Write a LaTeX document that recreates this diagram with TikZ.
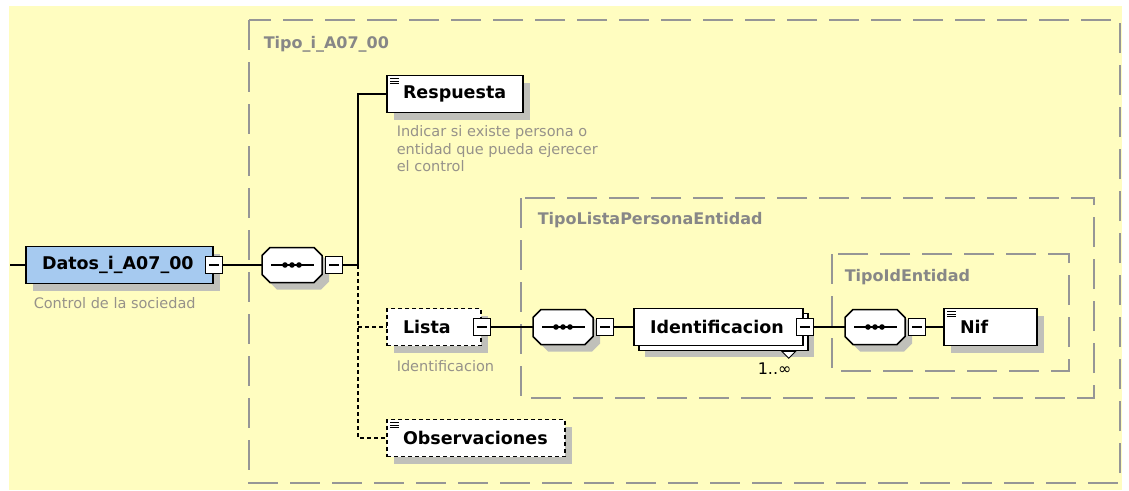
\documentclass[tikz,border=0pt]{standalone}
\usepackage{fontspec}
\setmainfont{DejaVu Sans}
\usetikzlibrary{positioning,shadows}
\definecolor{bgyellow}{RGB}{255,253,192}
\definecolor{elemblue}{RGB}{166,202,240}
\definecolor{shadowgray}{RGB}{192,192,186}
\definecolor{framegray}{RGB}{150,150,150}
\definecolor{labelgray}{RGB}{135,135,135}
\definecolor{descgray}{RGB}{150,146,138}
\hyphenpenalty=10000
% octagon with the three dots of a sequence
\newcommand{\seqbody}[1]{%
	\draw[fill=white, shade] ([xshift=8pt]#1.north west) -- ([xshift=-8pt]#1.north east) -- ([yshift=-8pt]#1.north east)
		-- ([yshift=8pt]#1.south east) -- ([xshift=-8pt]#1.south east) -- ([xshift=8pt]#1.south west)
		-- ([yshift=8pt]#1.south west) -- ([yshift=-8pt]#1.north west) -- cycle;
	\draw[line width=1.3pt] ([xshift=9pt]#1.west) -- ([xshift=-8pt]#1.east);
	\foreach \d in {-7,0,7}
		\fill[black] ([xshift=\d pt]#1.center) circle (2.8pt);
}
\begin{document}
\begin{tikzpicture}[x=1pt, y=-1pt]
	\edef\boxheight{37pt}
	\tikzstyle{every path}=[line width=1.5pt]
	\tikzstyle{frame}=[draw=framegray, line width=1.8pt, dash pattern=on 30pt off 12pt]
	\tikzstyle{shade}=[general shadow={fill=shadowgray, shadow xshift=7pt, shadow yshift=-7pt}]
	\tikzstyle{elembox}=[draw, fill=white, minimum height=\boxheight, inner xsep=16pt, inner ysep=0pt, align=left, font=\fontsize{17.5}{20}\selectfont\bfseries]
	\tikzstyle{elem}=[elembox, shade]
	\tikzstyle{simple}=[path picture={
		\foreach \k in {3,5.5,8}
			\draw[solid, line width=0.8pt] ([xshift=3pt,yshift=-\k pt]path picture bounding box.north west) -- ++(9pt,0);
	}]
	\tikzstyle{optional}=[dash pattern=on 4pt off 3pt]
	\tikzstyle{optline}=[line width=1.3pt, dash pattern=on 4pt off 3pt]
	\tikzstyle{minus}=[draw, fill=white, line width=1.1pt, minimum size=17pt, inner sep=0pt, path picture={
		\draw[line width=1.1pt] ([xshift=3.5pt]path picture bounding box.west) -- ([xshift=-3.5pt]path picture bounding box.east);
	}]
	\tikzstyle{seq}=[minimum width=60pt, minimum height=35pt, inner sep=0pt, outer sep=0pt]
	\tikzstyle{typelabel}=[anchor=west, inner sep=0pt, text=labelgray, font=\fontsize{16}{19}\selectfont\bfseries]
	\tikzstyle{desc}=[anchor=west, inner sep=0pt, align=left, text=descgray, font=\fontsize{14.5}{17.5}\selectfont]

	% background and type frames
	\useasboundingbox (0,0) rectangle (1129,490);
	\fill[bgyellow] (9,6) rectangle (1122,490);
	\draw[frame] (249,20) rectangle (1120,483);
	\draw[frame] (521,198) rectangle (1094,398);
	\draw[frame] (832,254) rectangle (1069,371);
	\node[typelabel] (ltipo) at (263,44) {Tipo\_i\_A07\_00};
	\node[typelabel] (llista) at (537,220) {TipoListaPersonaEntidad};
	\node[typelabel] (lid) at (844,277) {TipoIdEntidad};

	% root element
	\coordinate (start) at (10,265);
	\node[elem, fill=elemblue, minimum width=187pt, text width=155pt] (datos) at (119.5,265) {Datos\_i\_A07\_00};
	\node[minus] (mdatos) at (datos.east) {};
	\node[desc] (ddatos) at (33,303) {Control de la sociedad};

	% first sequence
	\node[seq] (seq1) at (292,265) {};
	\seqbody{seq1}
	\node[minus] (mseq1) [right=3pt of seq1] {};
	\coordinate (fork) at (358,265);

	\node[elem, simple, minimum width=136pt, text width=104pt] (resp) at (455,94) {Respuesta};
	\node[desc, anchor=north west] (dresp) at (396,125) {Indicar si existe persona o\\entidad que pueda ejerecer\\el control};

	\node[elem, optional, minimum width=94pt, text width=62pt] (lista) at (434,327) {Lista};
	\node[minus] (mlista) at (lista.east) {};
	\node[desc] (dlista) at (396,366) {Identificacion};

	\node[elem, simple, optional, minimum width=178pt, text width=146pt] (obs) at (476,438) {Observaciones};

	% lista content
	\node[seq] (seq2) at (563,327) {};
	\seqbody{seq2}
	\node[minus] (mseq2) [right=3pt of seq2] {};
	\node[elembox, general shadow={fill=shadowgray, shadow xshift=11pt, shadow yshift=-11pt},
		general shadow={draw=black, fill=white, shadow xshift=5pt, shadow yshift=-5pt},
		minimum width=169pt, text width=137pt] (ident) at (718.5,327) {Identificacion};
	\draw[line width=1pt, fill=white] ([shift={(-22,5)}]ident.south east) -- ++(14,0) -- ++(-7,7) -- cycle;
	\node[minus] (mident) at ([xshift=1pt]ident.east) {};
	\node[anchor=west, inner sep=0pt, font=\fontsize{16}{19}\selectfont] (card) at (757,369) {1..∞};

	% identificacion content
	\node[seq] (seq3) at (875,327) {};
	\seqbody{seq3}
	\node[minus] (mseq3) [right=3pt of seq3] {};
	\node[elem, simple, minimum width=93pt, text width=61pt] (nif) at (990.5,327) {Nif};

	% connectors
	\draw (start) -- (datos);
	\draw (mdatos) -- (seq1);
	\draw (mseq1) -- (fork) |- (resp);
	\draw[optline] (fork) -- (fork |- obs) -- (obs);
	\draw[optline] (fork |- lista) -- (lista);
	\draw (mlista) -- (seq2);
	\draw (mseq2) -- (ident);
	\draw (mident) -- (seq3);
	\draw (mseq3) -- (nif);
\end{tikzpicture}
\end{document}
